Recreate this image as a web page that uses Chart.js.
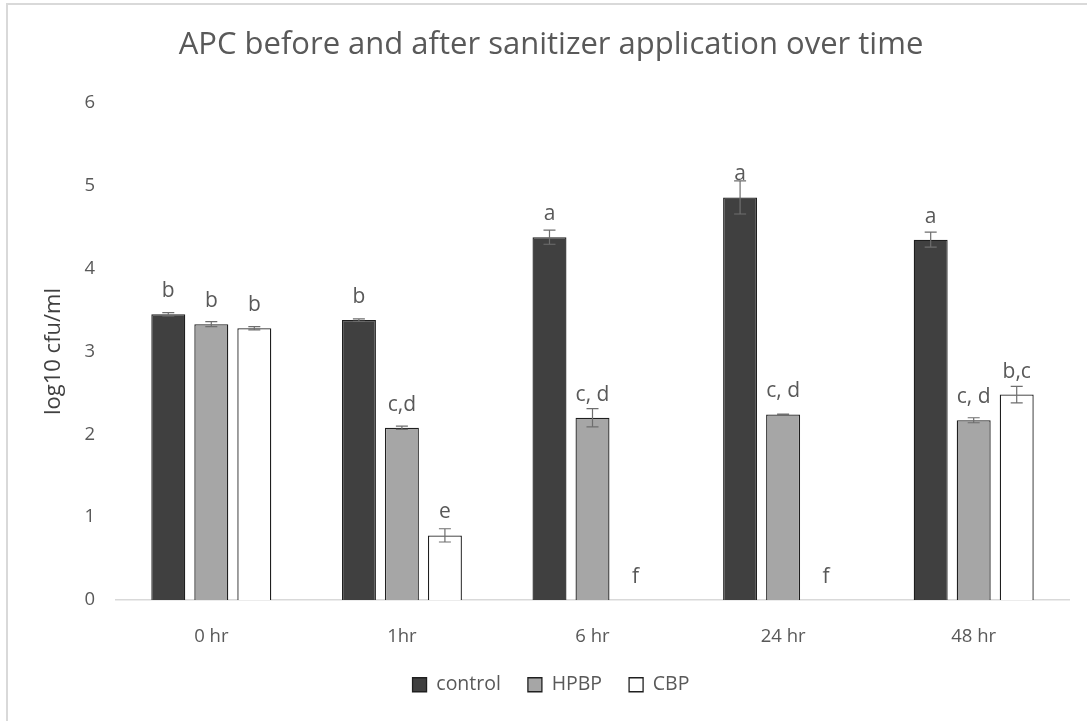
<!DOCTYPE html>
<html>
<head>
<meta charset="utf-8">
<script src="https://cdn.jsdelivr.net/npm/chart.js@4.4.1/dist/chart.umd.min.js"></script>
<style>
  html, body { margin: 0; padding: 0; background: #fff; }
  #wrap { position: relative; width: 1087px; height: 721px; overflow: hidden; }
  #frame { position: absolute; left: 6px; top: 3px; width: 1100px; height: 740px; border: 2px solid #d9d9d9; box-sizing: border-box; }
  canvas { position: absolute; left: 0; top: 0; }
</style>
</head>
<body>
<div id="wrap">
  <div id="frame"></div>
  <canvas id="canvas" width="1087" height="721"></canvas>
</div>
<script>
// categories and series
let timepoints = ['0 hr', '1hr', '6 hr', '24 hr', '48 hr'];
let control = [3.45, 3.38, 4.38, 4.86, 4.35];
let hpbp = [3.33, 2.08, 2.20, 2.24, 2.17];
let cbp = [3.28, 0.78, 0, 0, 2.48];
// error bar half-widths
let controlErr = [0.02, 0.015, 0.085, 0.2, 0.09];
let hpbpErr = [0.03, 0.02, 0.11, 0.005, 0.03];
let cbpErr = [0.02, 0.08, 0, 0, 0.1];
// significance letters
let controlLetters = ['b', 'b', 'a', 'a', 'a'];
let hpbpLetters = ['b', 'c,d', 'c, d', 'c, d', 'c, d'];
let cbpLetters = ['b', 'e', 'f', 'f', 'b,c'];
let yTicks = [0, 1, 2, 3, 4, 5, 6];

Chart.defaults.font.family = '"Open Sans"';
Chart.defaults.color = '#595959';

let errors = [controlErr, hpbpErr, cbpErr];
let letters = [controlLetters, hpbpLetters, cbpLetters];

let errorBars = {
  id: 'errorBars',
  afterDatasetsDraw: function(chart) {
    let ctx = chart.ctx;
    let y = chart.scales.y;
    ctx.save();
    chart.data.datasets.forEach(function(ds, di) {
      let meta = chart.getDatasetMeta(di);
      meta.data.forEach(function(bar, i) {
        let v = ds.data[i];
        let e = errors[di][i];
        let x = bar.x;
        if (e > 0) {
          let top = y.getPixelForValue(v + e);
          let bot = y.getPixelForValue(v - e);
          ctx.strokeStyle = '#6e6e6e';
          ctx.lineWidth = 1.2;
          ctx.beginPath();
          ctx.moveTo(x, top); ctx.lineTo(x, bot);
          ctx.moveTo(x - 6, top); ctx.lineTo(x + 6, top);
          ctx.moveTo(x - 6, bot); ctx.lineTo(x + 6, bot);
          ctx.stroke();
        }
        ctx.fillStyle = '#595959';
        ctx.font = '21px "Open Sans"';
        ctx.textAlign = 'center';
        ctx.textBaseline = 'alphabetic';
        ctx.fillText(letters[di][i], x, y.getPixelForValue(v) - 17);
      });
    });
    ctx.restore();
  }
};

let ctx = document.getElementById('canvas').getContext('2d');
let apc_chart = new Chart(ctx, {
  type: 'bar',
  data: {
    labels: timepoints,
    datasets: [{
      label: 'control',
      data: control,
      backgroundColor: '#404040',
      borderColor: '#1f1f1f',
      borderWidth: 1.3
    }, {
      label: 'HPBP',
      data: hpbp,
      backgroundColor: '#a6a6a6',
      borderColor: '#1f1f1f',
      borderWidth: 1.3
    }, {
      label: 'CBP',
      data: cbp,
      backgroundColor: '#ffffff',
      borderColor: '#1f1f1f',
      borderWidth: 1.3
    }]
  },
  options: {
    responsive: false,
    animation: false,
    categoryPercentage: 0.677,
    barPercentage: 0.79,
    layout: { padding: { left: 33, right: 18, top: 0, bottom: 16.5 } },
    plugins: {
      title: {
        display: true,
        text: 'APC before and after sanitizer application over time',
        color: '#595959',
        font: { size: 31, weight: 'normal' },
        padding: { top: 26.4, bottom: 39.4 }
      },
      legend: {
        position: 'bottom',
        labels: {
          boxWidth: 14,
          boxHeight: 14,
          padding: 27,
          color: '#595959',
          font: { size: 19.5 }
        }
      },
      tooltip: { enabled: false }
    },
    scales: {
      x: {
        grid: { display: false, drawTicks: false },
        border: { display: true, color: '#d9d9d9', width: 1.5 },
        ticks: { padding: 25.6, color: '#595959', font: { size: 18.5 } },
        afterFit: function(axis) { axis.height = 48; }
      },
      y: {
        min: 0,
        max: 6,
        afterBuildTicks: function(axis) {
          axis.ticks = yTicks.map(function(v) { return { value: v }; });
        },
        afterFit: function(axis) { axis.width = 83; },
        grid: { display: false, drawTicks: false },
        border: { display: false },
        ticks: { padding: 21, color: '#595959', font: { size: 18.5 } },
        title: {
          display: true,
          text: 'log10 cfu/ml',
          color: '#404040',
          font: { size: 22 },
          padding: { top: 8, bottom: 0 }
        }
      }
    }
  },
  plugins: [errorBars]
});
</script>
</body>
</html>
